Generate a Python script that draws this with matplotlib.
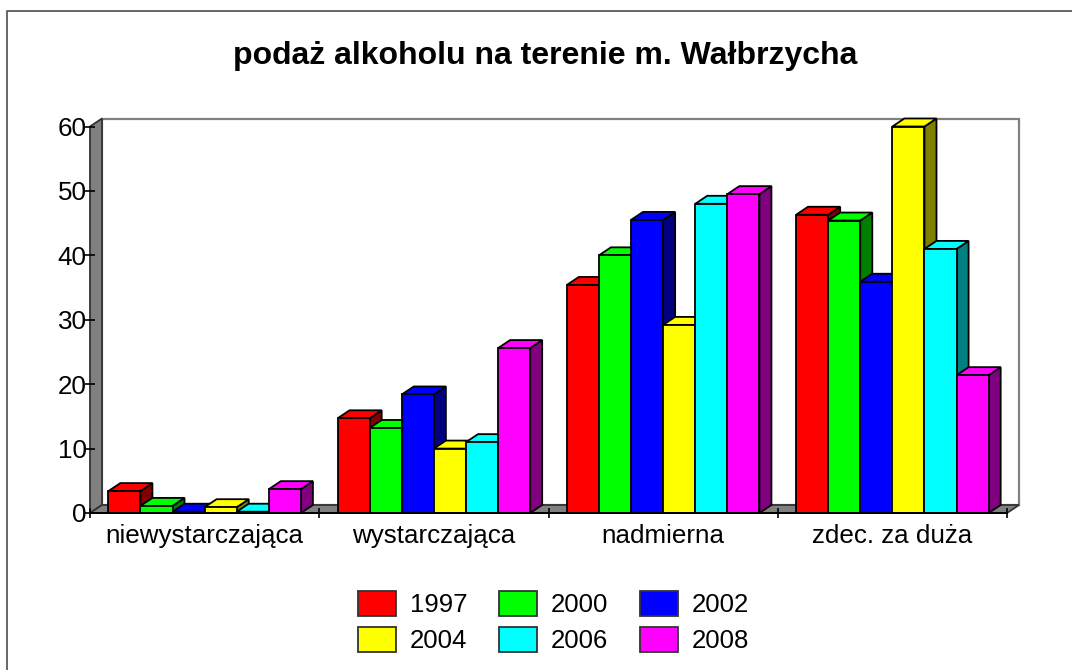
import matplotlib
matplotlib.use('Agg')
import matplotlib.pyplot as plt
from matplotlib.patches import Polygon, Patch
from matplotlib.lines import Line2D

plt.rcParams['font.family'] = ['Liberation Sans', 'DejaVu Sans']

categories = ['niewystarczająca', 'wystarczająca', 'nadmierna', 'zdec. za duża']
years = ['1997', '2000', '2002', '2004', '2006', '2008']
v1997 = [3.4, 14.7, 35.4, 46.3]
v2000 = [1.1, 13.2, 40.0, 45.4]
v2002 = [0.2, 18.4, 45.5, 35.9]
v2004 = [0.9, 10.0, 29.2, 60.0]
v2006 = [0.2, 11.0, 48.0, 41.0]
v2008 = [3.7, 25.6, 49.5, 21.4]
series = [v1997, v2000, v2002, v2004, v2006, v2008]
colors = ['#ff0000', '#00ff00', '#0000ff', '#ffff00', '#00ffff', '#ff00ff']
side_colors = ['#800000', '#008000', '#000080', '#808000', '#008080', '#800080']
yticks = [0, 10, 20, 30, 40, 50, 60]

W, H = 1072, 670
fig = plt.figure(figsize=(W / 100, H / 100), dpi=100)
ax = fig.add_axes([90 / W, 1 - 513 / H, 917 / W, 386.5 / H])
ax.set_xlim(0, 4)
ax.set_ylim(0, 60)

# depth of the fake 3d, in data units
dx = 12 / (917 / 4)
dy = 8 / (386.5 / 60)
bw = 32.1 / (917 / 4)
gray = '#808080'
edge = '#000000'
lw = 1.3

# outer frame, open at the right and bottom
fig.add_artist(Line2D([7 / W, 7 / W, 1], [0, 1 - 11 / H, 1 - 11 / H], color='#666666', lw=1.4))

# back wall, left wall, floor
ax.add_patch(Polygon([(dx, dy), (4 + dx, dy), (4 + dx, 60 + dy), (dx, 60 + dy)], fc='white', ec=gray, lw=1.6, clip_on=False, zorder=1))
ax.add_patch(Polygon([(0, 0), (dx, dy), (dx, 60 + dy), (0, 60)], fc=gray, ec='#333333', lw=1.3, clip_on=False, zorder=1.1))
ax.add_patch(Polygon([(0, 0), (4, 0), (4 + dx, dy), (dx, dy)], fc=gray, ec='#333333', lw=1.3, clip_on=False, zorder=1.1))

z = 3
for g in range(len(categories)):
    for i, vals in enumerate(series):
        left = g + (1 - 6 * bw) / 2 + i * bw
        v = vals[g]
        ax.bar(left, v, bw, align='edge', color=colors[i], edgecolor=edge, lw=lw, zorder=z + 0.2, clip_on=False)
        r = left + bw
        ax.add_patch(Polygon([(r, 0), (r + dx, dy), (r + dx, v + dy), (r, v)], fc=side_colors[i], ec=edge, lw=lw, clip_on=False, zorder=z))
        ax.add_patch(Polygon([(left, v), (r, v), (r + dx, v + dy), (left + dx, v + dy)], fc=colors[i], ec=edge, lw=lw, clip_on=False, zorder=z + 0.1))
        z += 1

for s in ax.spines.values():
    s.set_visible(False)
ax.patch.set_visible(False)
ax.set_yticks(yticks)
ax.set_xticks(range(5))
ax.set_xticks([0.5, 1.5, 2.5, 3.5], minor=True)
ax.set_xticklabels([])
ax.set_xticklabels(categories, minor=True)
ax.tick_params(axis='y', labelsize=18.7, length=7, direction='inout', width=1.2, pad=-1, color='black')
ax.tick_params(axis='x', which='major', length=7, direction='inout', width=1.2)
ax.tick_params(axis='x', which='minor', length=0, labelsize=18.7, pad=8)
ax.plot([0, 4], [0, 0], color='black', lw=1.4, clip_on=False, zorder=200)

ax.set_title('podaż alkoholu na terenie m. Wałbrzycha', fontsize=23, fontweight='bold', x=(545.5 - 90) / 917, y=1, pad=45)

handles = [Patch(fc=c, ec='#333333', lw=1.3, label=y) for c, y in zip(colors, years)]
# legend order runs by row in the picture, matplotlib fills by column
order = [0, 3, 1, 4, 2, 5]
fig.legend([handles[i] for i in order], [years[i] for i in order], ncol=3, frameon=False,
           loc='center', bbox_to_anchor=(553.5 / W, 1 - 622 / H), fontsize=18.5,
           handlelength=1.48, handleheight=1.1, handletextpad=0.55, columnspacing=1.23, labelspacing=0.38)

fig.savefig('out.png', dpi=100)
